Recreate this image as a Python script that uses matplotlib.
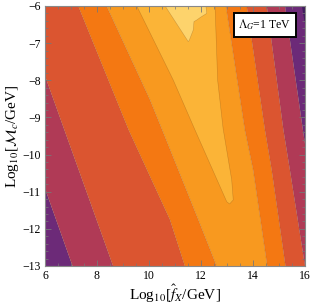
import numpy as np
import matplotlib
matplotlib.use("Agg")
import matplotlib.pyplot as plt
from matplotlib.ticker import MultipleLocator

plt.rcParams['font.family'] = ['Liberation Serif', 'DejaVu Serif']
plt.rcParams['mathtext.fontset'] = 'stix'

# contour band boundaries: (log10 f_X, log10 M_c) points
b1_x = [3.51, 7.06]
b1_y = [-6, -13]
b2_x = [5.04, 8.62]
b2_y = [-6, -13]
b3_x = [7.28, 9.22, 10.81, 11.38]
b3_y = [-6, -9.34, -11.76, -13]
b4_x = [8.37, 10.04, 10.51, 11.9, 12.6]
b4_y = [-6, -8.53, -9.34, -11.76, -13]
r1_x = [12.96, 13.69, 14.01, 14.55]
r1_y = [-6, -9.34, -10.42, -13]
r2_x = [13.76, 14.46, 14.72, 15.25]
r2_y = [-6, -9.34, -10.42, -13]
r3_x = [14.53, 15.17, 15.42, 16.0]
r3_y = [-6, -9.34, -10.42, -13]
r4_x = [15.23, 15.92, 16.7]
r4_y = [-6, -9.34, -13]
r5_x = [15.88, 16.05]
r5_y = [-6, -6.7]

# yellow-orange wedge (left side top->tip, right side tip->top)
wl_x = [9.53, 10.93, 11.77, 12.99, 13.1]
wl_y = [-6, -7.99, -9.34, -11.27, -11.33]
wr_x = [13.24, 13.18, 12.85, 12.64, 12.54]
wr_y = [-11.22, -10.68, -9.3, -8.0, -6]

# pale yellow patch near the top
pl_x = [10.62, 11.51]
pl_y = [-6, -6.96]
pr_x = [11.55, 11.7, 11.73, 11.83, 11.99, 12.22, 12.19]
pr_y = [-6.92, -6.65, -6.42, -6.38, -6.3, -6.2, -6]

c_purple = '#6c2a78'
c_dark = '#3e1d5c'
c_mag = '#b03a56'
c_red = '#db5530'
c_orange = '#f47812'
c_lorange = '#f8991f'
c_yorange = '#fbb437'
c_pale = '#fdd36c'

fig = plt.figure(figsize=(3.12, 3.07), dpi=100)
ax = fig.add_axes([0.1442, 0.1336, 0.8334, 0.8469])


def band(lx, ly, rx, ry, color):
    xs = list(lx) + list(rx)[::-1]
    ys = list(ly) + list(ry)[::-1]
    ax.fill(xs, ys, color=color, lw=0)


band([4, 4], [-6, -13], b1_x, b1_y, c_purple)
band(b1_x, b1_y, b2_x, b2_y, c_mag)
band(b2_x, b2_y, b3_x, b3_y, c_red)
band(b3_x, b3_y, b4_x, b4_y, c_orange)
band(b4_x, b4_y, r1_x, r1_y, c_lorange)
band(r1_x, r1_y, r2_x, r2_y, c_orange)
band(r2_x, r2_y, r3_x, r3_y, c_red)
band(r3_x, r3_y, r4_x, r4_y, c_mag)
band(r4_x, r4_y, [18, 18], [-6, -13], c_purple)
ax.fill(r5_x + [17, 17], r5_y + [-6.7, -6], color=c_dark, lw=0)
ax.fill(wl_x + wr_x, wl_y + wr_y, color=c_yorange, lw=0)
ax.fill(pl_x + pr_x, pl_y + pr_y, color=c_pale, lw=0)

# thin contour lines
for bx, by in [(b1_x, b1_y), (b2_x, b2_y), (b3_x, b3_y), (b4_x, b4_y),
               (r1_x, r1_y), (r2_x, r2_y), (r3_x, r3_y), (r4_x, r4_y),
               (wl_x + wr_x, wl_y + wr_y), (pl_x + pr_x, pl_y + pr_y)]:
    ax.plot(bx, by, color='#6a3a10', lw=0.4, alpha=0.3)

ax.set_xlim(6, 16)
ax.set_ylim(-13, -6)
ax.xaxis.set_major_locator(MultipleLocator(2))
ax.xaxis.set_minor_locator(MultipleLocator(0.5))
ax.yaxis.set_major_locator(MultipleLocator(1))
ax.yaxis.set_minor_locator(MultipleLocator(0.2))
ax.tick_params(which='both', direction='in', top=True, right=True,
               color='#777777', labelsize=8.5, pad=3)
ax.tick_params(which='major', length=4, width=0.6)
ax.tick_params(which='minor', length=2, width=0.5)
for s in ax.spines.values():
    s.set_color('#888888')
    s.set_linewidth(0.8)

ax.set_xlabel(r'Log$_{10}$[$\hat{f}_X$/GeV]', fontsize=11, labelpad=0)
ax.set_ylabel(r'Log$_{10}$[$\mathcal{M}_c$/GeV]', fontsize=11, labelpad=1)

ax.text(0.846, 0.927, r'$\Lambda_G$=1 TeV', transform=ax.transAxes,
        ha='center', va='center', fontsize=8.5,
        bbox=dict(boxstyle='square,pad=0.4', fc='white', ec='black', lw=1.4))

fig.savefig('out.png', dpi=100)
